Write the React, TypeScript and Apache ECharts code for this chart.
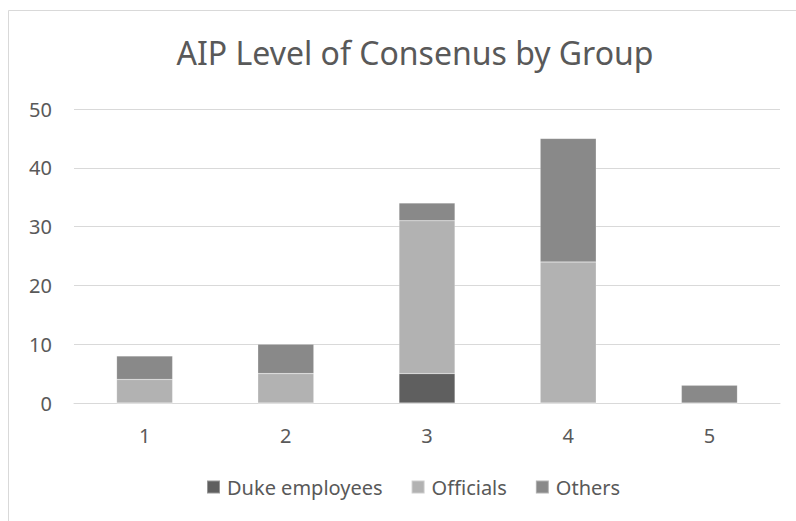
import React, { useEffect, useRef } from "react";
import * as echarts from "echarts";

const categories = ["1", "2", "3", "4", "5"];
const dukeEmployees = [0, 0, 5, 0, 0];
const officials = [4, 5, 26, 24, 0];
const others = [4, 5, 3, 21, 3];

export default function App() {
  const ref = useRef<HTMLDivElement>(null);
  useEffect(() => {
    if (!ref.current) return;
    const chart = echarts.init(ref.current, null, { renderer: "svg" });
    const font = "'Noto Sans', 'Open Sans', sans-serif";
    const mk = (name: string, data: number[], color: string) => ({
      name,
      type: "bar",
      stack: "total",
      data,
      barWidth: 56,
      itemStyle: { color, borderColor: "rgba(255,255,255,0.35)", borderWidth: 0.5 },
    });
    chart.setOption({
      animation: false,
      backgroundColor: "#ffffff",
      graphic: [
        {
          type: "rect",
          shape: { x: 8.5, y: 10.5, width: 820, height: 530 },
          style: { fill: "none", stroke: "#d9d9d9", lineWidth: 1 },
          silent: true,
        },
      ],
      title: {
        text: "AIP Level of Consenus by Group",
        left: 410,
        textAlign: "center",
        top: 31,
        textStyle: { fontFamily: font, fontSize: 32, fontWeight: "normal", color: "#595959" },
      },
      legend: {
        top: 477,
        left: 206,
        padding: 0,
        itemWidth: 13,
        itemHeight: 13,
        itemGap: 28,
        icon: "rect",
        textStyle: { fontFamily: font, fontSize: 20, color: "#595959", padding: [0, 0, 0, 2] },
        data: ["Duke employees", "Officials", "Others"],
      },
      grid: { left: 74, right: 16, top: 109, bottom: 118, containLabel: false },
      xAxis: {
        type: "category",
        data: categories,
        axisLine: { lineStyle: { color: "#d9d9d9", width: 1 } },
        axisTick: { show: false },
        axisLabel: { fontFamily: font, fontSize: 20, color: "#595959", margin: 22 },
      },
      yAxis: {
        type: "value",
        min: 0,
        max: 50,
        interval: 10,
        axisLine: { show: false },
        axisTick: { show: false },
        splitLine: { lineStyle: { color: "#d9d9d9", width: 1 } },
        axisLabel: { fontFamily: font, fontSize: 20, color: "#595959", margin: 22 },
      },
      series: [
        mk("Duke employees", dukeEmployees, "#5f5f5f"),
        mk("Officials", officials, "#b2b2b2"),
        mk("Others", others, "#898989"),
      ],
    });
    return () => chart.dispose();
  }, []);
  return (
    <div
      ref={ref}
      style={{ position: "absolute", left: 0, top: 0, width: 796, height: 521 }}
    />
  );
}
